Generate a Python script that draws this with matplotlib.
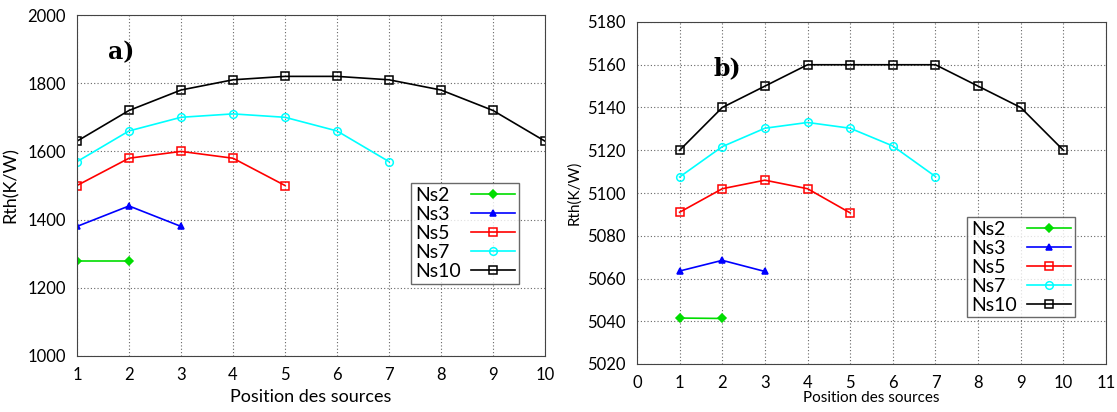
import matplotlib
matplotlib.use("Agg")
import matplotlib.pyplot as plt

series_names = ["Ns2", "Ns3", "Ns5", "Ns7", "Ns10"]
a_ns2 = [1280, 1280]
a_ns3 = [1380, 1440, 1380]
a_ns5 = [1500, 1580, 1600, 1580, 1500]
a_ns7 = [1570, 1660, 1700, 1710, 1700, 1660, 1570]
a_ns10 = [1630, 1720, 1780, 1810, 1820, 1820, 1810, 1780, 1720, 1630]

b_ns2 = [5041.5, 5041.3]
b_ns3 = [5063.5, 5068.5, 5063.3]
b_ns5 = [5091, 5102, 5106, 5102, 5090.7]
b_ns7 = [5107.5, 5121.7, 5130.3, 5133, 5130.3, 5122, 5107.7]
b_ns10 = [5120, 5140, 5150, 5160, 5160, 5160, 5160, 5150, 5140, 5120]

styles = [
    dict(color="#00dd00", marker="D", ms=4, mfc="#00dd00"),
    dict(color="#0000ff", marker="^", ms=5, mfc="#0000ff"),
    dict(color="#ff0000", marker="s", ms=6, mfc="none"),
    dict(color="#00ffff", marker="o", ms=5.5, mfc="none"),
    dict(color="#000000", marker="s", ms=6, mfc="none"),
]

font = "Lato"
plt.rcParams["font.family"] = font

fig = plt.figure(figsize=(11.17, 4.12), dpi=100)
axA = fig.add_axes([77/1117, 56/412, 468/1117, 341/412])
axB = fig.add_axes([637/1117, 48/412, 469/1117, 342/412])

def draw(ax, data):
    for name, ys, st in zip(series_names, data, styles):
        xs = list(range(1, len(ys) + 1))
        ax.plot(xs, ys, label=name, lw=1.2, color=st["color"], marker=st["marker"],
                markersize=st["ms"], markerfacecolor=st["mfc"],
                markeredgecolor=st["color"], markeredgewidth=1.1)
    ax.grid(True, linestyle=(0, (1, 2)), color="#666666", linewidth=0.8)
    for s in ax.spines.values():
        s.set_color("#444444")
    ax.tick_params(direction="in", length=0, labelsize=12, pad=8)

legends = []
def legend(ax, x, y):
    leg = ax.legend(loc="upper left", bbox_to_anchor=(x, y), markerfirst=False,
                    fontsize=14, frameon=True, fancybox=False, edgecolor="#444444",
                    handlelength=2.3, handletextpad=0.5, borderpad=0.2,
                    labelspacing=0.1, borderaxespad=0)
    leg.get_frame().set_linewidth(1.0)
    legends.append(leg)
    return leg

draw(axA, [a_ns2, a_ns3, a_ns5, a_ns7, a_ns10])
axA.set_xlim(1, 10)
axA.set_xticks(range(1, 11))
axA.set_ylim(1000, 2000)
axA.set_yticks(range(1000, 2001, 200))
axA.set_xlabel("Position des sources", fontsize=13, labelpad=4)
axA.set_ylabel("Rth(K/W)", fontsize=13, labelpad=6)
axA.text(1.6, 1870, "a)", fontsize=17, fontweight="bold", family="DejaVu Serif")
legend(axA, 0.714, 0.507)

draw(axB, [b_ns2, b_ns3, b_ns5, b_ns7, b_ns10])
axB.set_xlim(0, 11)
axB.set_xticks(range(0, 12))
axB.set_ylim(5020, 5180)
axB.set_yticks(range(5020, 5181, 20))
axB.set_xlabel("Position des sources", fontsize=11, labelpad=0)
axB.set_ylabel("Rth(K/W)", fontsize=11, labelpad=4)
axB.text(1.8, 5155, "b)", fontsize=17, fontweight="bold", family="DejaVu Serif")
legend(axB, 0.704, 0.43)

# left-align legend labels while keeping handles on the right
renderer = fig.canvas.get_renderer()
for leg in legends:
    cols = leg._legend_handle_box.get_children()
    for col in cols:
        rows = col.get_children()
        widths = [r.get_children()[0].get_bbox(renderer).width for r in rows]
        wmax = max(widths)
        for r, w in zip(rows, widths):
            r.sep = r.sep + (wmax - w) * 72.0 / fig.dpi

fig.savefig("out.png", dpi=100)
